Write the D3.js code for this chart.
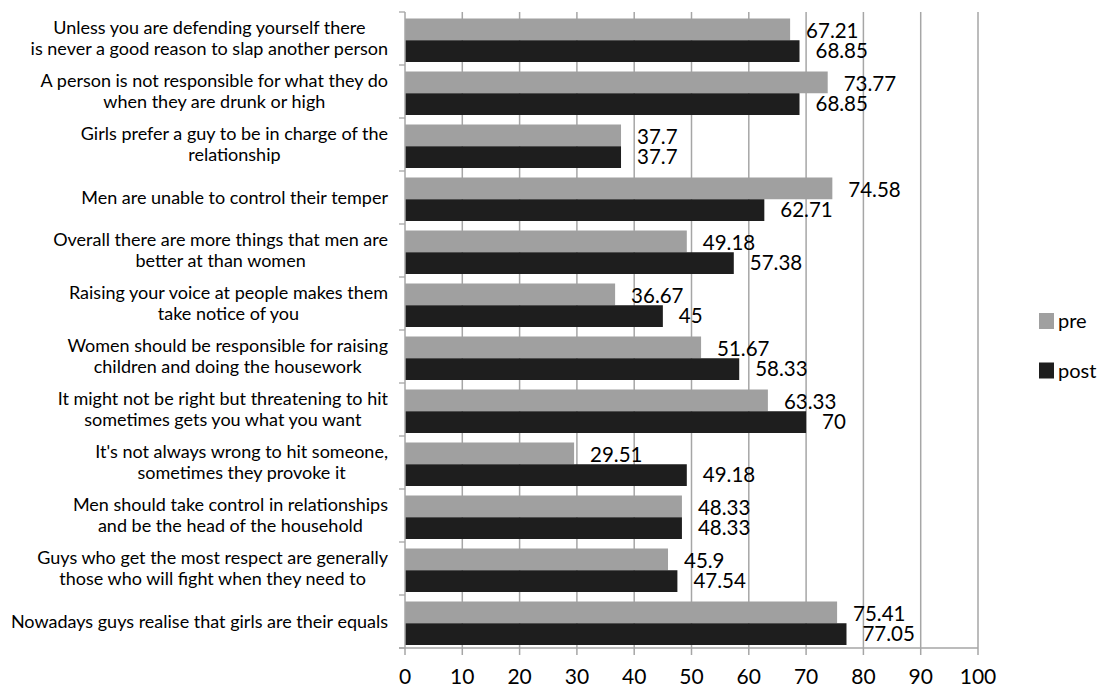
<!DOCTYPE html>
<html>
<head>
<meta charset="utf-8">
<script src="https://cdn.jsdelivr.net/npm/d3@7"></script>
<style>
  body { margin: 0; background: #fff; }
  svg { display: block; font-family: Lato, "Open Sans", sans-serif; }
</style>
</head>
<body>
<div id="chart"></div>
<script>
var categories = [
	["Unless you are defending yourself there", "is never a good reason to slap another person"],
	["A person is not responsible for what they do", "when they are drunk or high"],
	["Girls prefer a guy to be in charge of the", "relationship"],
	["Men are unable to control their temper"],
	["Overall there are more things that men are", "better at than women"],
	["Raising your voice at people makes them", "take notice of you"],
	["Women should be responsible for raising", "children and doing the housework"],
	["It might not be right but threatening to hit", "sometimes gets you what you want"],
	["It's not always wrong to hit someone,", "sometimes they provoke it"],
	["Men should take control in relationships", "and be the head of the household"],
	["Guys who get the most respect are generally", "those who will fight when they need to"],
	["Nowadays guys realise that girls are their equals"]
];

var pre = [67.21, 73.77, 37.7, 74.58, 49.18, 36.67, 51.67, 63.33, 29.51, 48.33, 45.9, 75.41];
var post = [68.85, 68.85, 37.7, 62.71, 57.38, 45, 58.33, 70, 49.18, 48.33, 47.54, 77.05];

var seriesNames = ["pre", "post"];
var xTicks = [0, 10, 20, 30, 40, 50, 60, 70, 80, 90, 100];

var colors = ["#a0a0a0", "#1e1e1e"];

function plot() {
	var width = 1104, height = 688;
	var left = 405, right = 978, top = 12, bottom = 648;

	var svg = d3.select("#chart").append("svg")
	.attr("width", width)
	.attr("height", height);

	var x = d3.scaleLinear().domain([0, 100]).range([left, right]);

	var y = d3.scaleBand()
	.domain(d3.range(categories.length))
	.range([top, bottom]);

	var inner = d3.scaleBand()
	.domain(seriesNames)
	.range([6.5, y.bandwidth() - 3]);

	// gridlines
	svg.append("g").selectAll("line")
	.data(xTicks.slice(1))
	.enter().append("line")
	.attr("x1", function(d) { return x(d); })
	.attr("x2", function(d) { return x(d); })
	.attr("y1", top)
	.attr("y2", bottom + 7)
	.attr("stroke", "#a6a6a6")
	.attr("stroke-width", 1.5);

	// category boundary ticks
	svg.append("g").selectAll("line")
	.data(d3.range(categories.length + 1))
	.enter().append("line")
	.attr("x1", left - 6)
	.attr("x2", left)
	.attr("y1", function(i) { return top + i * y.bandwidth(); })
	.attr("y2", function(i) { return top + i * y.bandwidth(); })
	.attr("stroke", "#a6a6a6")
	.attr("stroke-width", 1.3);

	// bars
	var data = categories.map(function(c, i) {
		return {i: i, values: [{k: "pre", v: pre[i]}, {k: "post", v: post[i]}]};
	});

	var g = svg.selectAll(".cat")
	.data(data)
	.enter().append("g")
	.attr("class", "cat")
	.attr("transform", function(d) { return "translate(0," + y(d.i) + ")"; });

	g.selectAll("rect")
	.data(function(d) { return d.values; })
	.enter().append("rect")
	.attr("x", x(0))
	.attr("y", function(d) { return inner(d.k); })
	.attr("width", function(d) { return x(d.v) - x(0); })
	.attr("height", inner.bandwidth())
	.style("fill", function(d, j) { return colors[j]; });

	g.selectAll("text.val")
	.data(function(d) { return d.values; })
	.enter().append("text")
	.attr("class", "val")
	.attr("x", function(d) { return x(d.v) + 16; })
	.attr("y", function(d) { return inner(d.k) + inner.bandwidth() / 2 + (d.k === "pre" ? 8.5 : 7); })
	.attr("font-size", 20.5)
	.attr("fill", "#000")
	.text(function(d) { return d.v; });

	// axes lines
	svg.append("line")
	.attr("x1", left).attr("x2", left)
	.attr("y1", top).attr("y2", bottom + 7)
	.attr("stroke", "#a6a6a6").attr("stroke-width", 1.5);
	svg.append("line")
	.attr("x1", left - 6).attr("x2", right)
	.attr("y1", bottom).attr("y2", bottom)
	.attr("stroke", "#a6a6a6").attr("stroke-width", 1.5);

	// x tick labels
	svg.append("g").selectAll("text")
	.data(xTicks)
	.enter().append("text")
	.attr("x", function(d) { return x(d); })
	.attr("y", 684)
	.attr("text-anchor", "middle")
	.attr("font-size", 21)
	.attr("fill", "#000")
	.text(function(d) { return d; });

	// category labels, wrapped and centred on the widest line
	var labelRight = 388;
	var lineH = 21.5;
	var labels = svg.append("g").selectAll("text")
	.data(data)
	.enter().append("text")
	.attr("font-size", 18)
	.attr("fill", "#000")
	.attr("text-anchor", "middle");

	labels.each(function(d) {
		var t = d3.select(this);
		var lines = categories[d.i];
		var cy = y(d.i) + y.bandwidth() / 2;
		var w = 0;
		lines.forEach(function(l, k) {
			var sp = t.append("tspan")
			.attr("x", 0)
			.attr("y", cy + (k - (lines.length - 1) / 2) * lineH + 6)
			.text(l);
			w = Math.max(w, sp.node().getComputedTextLength());
		});
		t.selectAll("tspan").attr("x", labelRight - w / 2);
	});

	// legend
	var leg = svg.append("g").selectAll("g")
	.data(seriesNames)
	.enter().append("g")
	.attr("transform", function(d, i) { return "translate(1039," + (313 + i * 49.5) + ")"; });
	leg.append("rect")
	.attr("width", 15).attr("height", 16)
	.style("fill", function(d, i) { return colors[i]; });
	leg.append("text")
	.attr("x", 19).attr("y", 15)
	.attr("font-size", 20)
	.attr("fill", "#000")
	.text(function(d) { return d; });
}

document.addEventListener("DOMContentLoaded", function() {
	plot();
});
</script>
</body>
</html>
